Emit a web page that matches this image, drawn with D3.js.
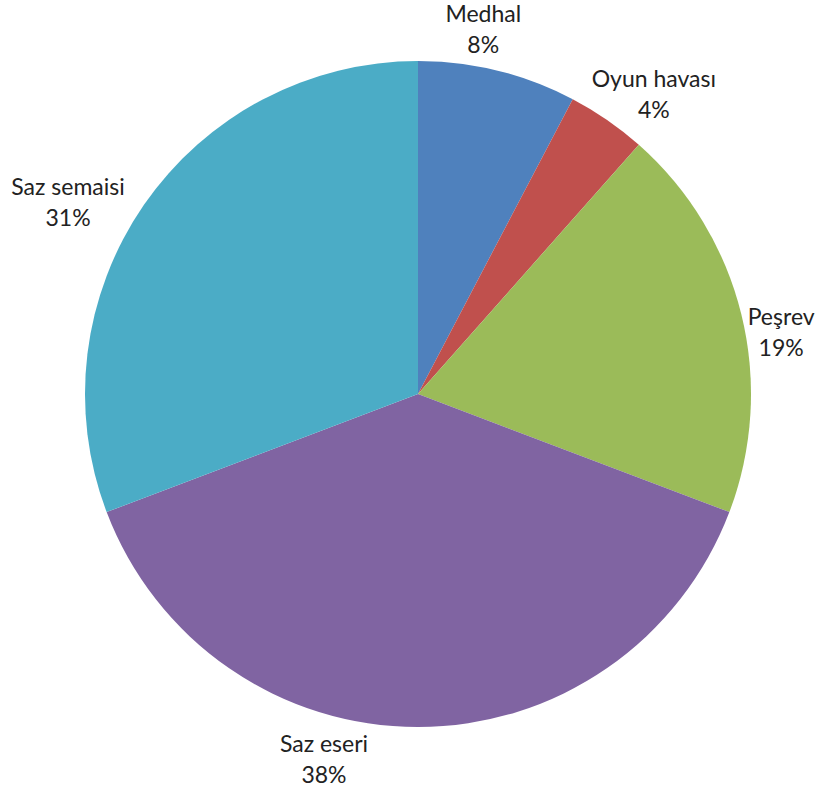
<!DOCTYPE html>
<html><head><meta charset="utf-8">
<script src="https://cdn.jsdelivr.net/npm/d3@7/dist/d3.min.js"></script>
<style>html,body{margin:0;padding:0;background:#fff;}svg{display:block;}</style>
</head><body>
<script>
const categories = ["Medhal", "Oyun havası", "Peşrev", "Saz eseri", "Saz semaisi"];
const values = [2, 1, 5, 10, 8];
const colors = ["#4F81BD", "#C0504D", "#9BBB59", "#8064A2", "#4BACC6"];
// label nudges (layout only)
const labelNudge = [[-24, -2], [24, 8], [1, 28], [-94, -7], [-43, 21]];

const W = 825, H = 794, cx = 418, cy = 394, R = 333;
const svg = d3.select("body").append("svg").attr("width", W).attr("height", H);
const g = svg.append("g").attr("transform", `translate(${cx},${cy})`);
const pie = d3.pie().sort(null).value(d => d)(values);
const arc = d3.arc().innerRadius(0).outerRadius(R);
g.selectAll("path").data(pie).join("path")
  .attr("d", arc).attr("fill", (d, i) => colors[i]);

const total = d3.sum(values);
const fmt = d3.format(".0%");
const lr = R + 40;
pie.forEach((d, i) => {
  const a = (d.startAngle + d.endAngle) / 2;
  const x = lr * Math.sin(a) + labelNudge[i][0];
  const y = -lr * Math.cos(a) + labelNudge[i][1];
  const t = g.append("text").attr("text-anchor", "middle")
    .attr("font-family", "Lato, 'Open Sans', sans-serif").attr("font-size", 23)
    .attr("fill", "#222");
  t.append("tspan").attr("x", x).attr("y", y - 8).text(categories[i]);
  t.append("tspan").attr("x", x).attr("y", y + 23).text(fmt(values[i] / total));
});
</script>
</body></html>
